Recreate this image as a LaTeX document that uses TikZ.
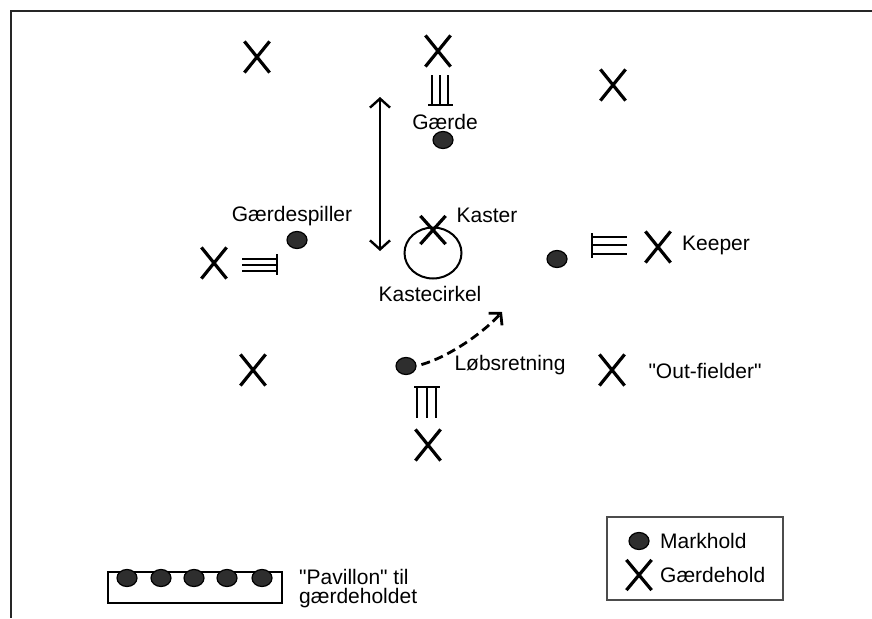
\documentclass[tikz,border=0pt]{standalone}
\usepackage{fontspec}
\setmainfont{Liberation Sans}[Ligatures=TeXOff]
\usetikzlibrary{arrows.meta,shapes.misc,shapes.geometric}

\begin{document}
\begin{tikzpicture}[x=1pt,y=-1pt,
  cross/.style={cross out,draw,line width=3.2pt,minimum width=22pt,minimum height=28pt,inner sep=0pt},
  dot/.style={ellipse,draw=black,line width=1.2pt,fill=black!82,minimum width=20pt,minimum height=17pt,inner sep=0pt},
  lbl/.style={font=\fontsize{21}{23}\selectfont,inner sep=0pt},
  wicket/.style={line width=2.6pt},
  frame/.style={line width=2pt,black!85},
  barb/.style={line width=2.4pt,{Straight Barb[length=9pt,width=20pt]}-{Straight Barb[length=9pt,width=20pt]}},
  runarrow/.style={line width=2.8pt,dash pattern=on 9pt off 5pt,-{Straight Barb[length=8pt,width=18pt]}}]

\useasboundingbox (0,0) rectangle (872,618);

% open frame: top and left edges only
\draw[frame] (872,11) -- (11,11) -- (11,618);

% fielding side (crosses)
\node[cross] (x1) at (257,57) {};
\node[cross] (x2) at (438,51) {};
\node[cross] (x3) at (613,85) {};
\node[cross] (x4) at (214,263) {};
\node[cross,minimum height=25pt] (xk) at (433,230) {};
\node[cross] (x5) at (658,247) {};
\node[cross] (x6) at (253,370) {};
\node[cross] (x7) at (612,370) {};
\node[cross] (x8) at (428,445) {};

% batting side (dots)
\node[dot] (d1) at (443,140) {};
\node[dot] (d2) at (297,240) {};
\node[dot] (d3) at (557,259) {};
\node[dot] (d4) at (406,366) {};

% throwing circle
\node[ellipse,draw,line width=2pt,minimum width=57pt,minimum height=51pt,inner sep=0pt] (ring) at (433,253) {};

% wickets
\draw[wicket] (432,75) -- (432,105) (440,75) -- (440,105) (448,75) -- (448,105)
              (428,105) -- (453,105);
\draw[wicket] (242,259) -- (277,259) (242,265) -- (277,265) (242,271) -- (277,271)
              (277,254) -- (277,275);
\draw[wicket] (592,237) -- (627,237) (592,245) -- (627,245) (592,254) -- (627,254)
              (592,233) -- (592,258);
\draw[wicket] (417,387) -- (417,418) (427,387) -- (427,418) (436,387) -- (436,418)
              (414,387) -- (440,387);

% arrows
\coordinate (armtop) at (380,97);
\coordinate (armbot) at (380,251);
\draw[barb] (armtop) -- (armbot);
\coordinate (runend) at (502,312);
\draw[runarrow,shorten <=5pt] (d4.east) .. controls (448,357) and (482,334) .. (runend);

% labels
\node[lbl] (t1) at (445,122) {Gærde};
\node[lbl] (t2) at (292,216) {Gærdespiller};
\node[lbl] (t3) at (487,215) {Kaster};
\node[lbl] (t4) at (430,294) {Kastecirkel};
\node[lbl] (t5) at (716,245) {Keeper};
\node[lbl] (t6) at (510,365) {Løbsretning};
\node[lbl] (t7) at (705,371) {"Out-fielder"};

% pavilion
\draw[line width=1.8pt] (108,572) rectangle (282,603);
\foreach \px [count=\i] in {127,161,194,227,262}
  \node[dot] (p\i) at (\px,578) {};
\node[lbl,anchor=west] (pv1) at (299,577) {"Pavillon" til};
\node[lbl,anchor=west] (pv2) at (299,598) {gærdeholdet};

% legend
\draw[line width=1.2pt,black!70] (607,517) rectangle (783,600);
\node[dot] (ld) at (639,541) {};
\node[cross,minimum width=22pt,minimum height=27pt] (lx) at (639,575) {};
\node[lbl,anchor=west] (lt1) at (660,541) {Markhold};
\node[lbl,anchor=west] (lt2) at (660,575) {Gærdehold};
\end{tikzpicture}
\end{document}
